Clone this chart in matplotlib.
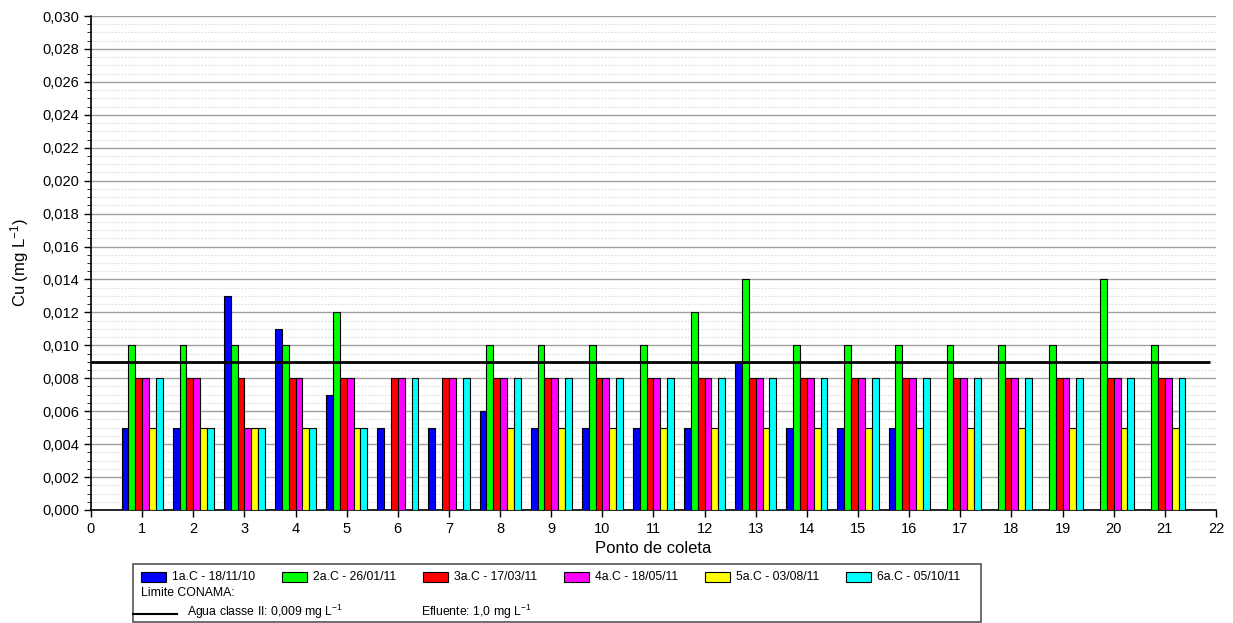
import matplotlib
matplotlib.use("Agg")
import matplotlib.pyplot as plt
from matplotlib.patches import Rectangle
from matplotlib.lines import Line2D
import numpy as np

plt.rcParams['font.family'] = ['Liberation Sans', 'DejaVu Sans']
plt.rcParams['mathtext.fontset'] = 'custom'
plt.rcParams['mathtext.rm'] = 'Liberation Sans'
plt.rcParams['mathtext.it'] = 'Liberation Sans:italic'
plt.rcParams['mathtext.bf'] = 'Liberation Sans:bold'
plt.rcParams['axes.unicode_minus'] = False

pontos = list(range(1, 22))
nan = np.nan

# Cu (mg/L) por campanha
c1 = [0.005, 0.005, 0.013, 0.011, 0.007, 0.005, 0.005, 0.006, 0.005, 0.005, 0.005,
      0.005, 0.009, 0.005, 0.005, 0.005, nan, nan, nan, nan, nan]
c2 = [0.010, 0.010, 0.010, 0.010, 0.012, nan, nan, 0.010, 0.010, 0.010, 0.010,
      0.012, 0.014, 0.010, 0.010, 0.010, 0.010, 0.010, 0.010, 0.014, 0.010]
c3 = [0.008] * 21
c4 = [0.008, 0.008, 0.005, 0.008, 0.008, 0.008, 0.008, 0.008, 0.008, 0.008, 0.008,
      0.008, 0.008, 0.008, 0.008, 0.008, 0.008, 0.008, 0.008, 0.008, 0.008]
c5 = [0.005, 0.005, 0.005, 0.005, 0.005, nan, nan, 0.005, 0.005, 0.005, 0.005,
      0.005, 0.005, 0.005, 0.005, 0.005, 0.005, 0.005, 0.005, 0.005, 0.005]
c6 = [0.008, 0.005, 0.005, 0.005, 0.005, 0.008, 0.008, 0.008, 0.008, 0.008, 0.008,
      0.008, 0.008, 0.008, 0.008, 0.008, 0.008, 0.008, 0.008, 0.008, 0.008]

series = [c1, c2, c3, c4, c5, c6]
labels = ["1a.C - 18/11/10", "2a.C - 26/01/11", "3a.C - 17/03/11",
          "4a.C - 18/05/11", "5a.C - 03/08/11", "6a.C - 05/10/11"]
colors = ["#0000FF", "#00FF00", "#FF0000", "#FF00FF", "#FFFF00", "#00FFFF"]

limite_agua = 0.009

fig = plt.figure(figsize=(12.33, 6.23), dpi=100)
ax = fig.add_axes([0.0738, 0.1814, 0.9124, 0.7929])

w = 0.134
x = np.array(pontos, dtype=float)
for i, (vals, c) in enumerate(zip(series, colors)):
    ax.bar(x + (i - 2.5) * w, vals, width=w, color=c, edgecolor="black",
           linewidth=0.8, zorder=3)

ax.hlines(limite_agua, 0, 21.88, color="black", linewidth=2, zorder=4)

ax.set_xlim(0, 22)
ax.set_ylim(0, 0.030)
ax.set_xticks(range(0, 23))
ax.set_yticks(np.arange(0, 0.0301, 0.002))
ax.set_yticks(np.arange(0, 0.0301, 0.0005), minor=True)
ax.set_yticklabels([f"{v:.3f}".replace(".", ",") for v in np.arange(0, 0.0301, 0.002)])
ax.tick_params(axis="both", labelsize=10.5, direction="out", length=5, width=1)
ax.tick_params(axis="y", which="minor", length=3)

ax.grid(axis="y", which="major", color="#a0a0a0", linewidth=1, zorder=0)
ax.grid(axis="y", which="minor", color="#dcdcdc", linewidth=0.8, linestyle=(0, (1.5, 1.5)), zorder=0)
ax.set_axisbelow(True)

for s in ["top", "right"]:
    ax.spines[s].set_visible(False)
ax.spines["left"].set_linewidth(1.2)
ax.spines["bottom"].set_linewidth(1.2)

ax.set_xlabel("Ponto de coleta", fontsize=12, labelpad=4)
ax.set_ylabel("Cu (mg L$^{\\mathrm{-1}}$)", fontsize=12, labelpad=8)

# legenda montada manualmente
W, H = 1233.0, 623.0
def fx(px):
    return px / W
def fy(py):
    return 1 - py / H

fig.patches.append(Rectangle((fx(133), fy(622)), fx(981) - fx(133), fy(564) - fy(622),
                             transform=fig.transFigure, fill=False,
                             edgecolor="#555555", linewidth=1.2))
for i, (lab, c) in enumerate(zip(labels, colors)):
    x0 = 141 + i * 141
    fig.patches.append(Rectangle((fx(x0), fy(582)), fx(25), 10 / H,
                                 transform=fig.transFigure, facecolor=c,
                                 edgecolor="black", linewidth=0.8))
    fig.text(fx(x0 + 31), fy(577), lab, fontsize=8.8, va="center", ha="left")

fig.text(fx(141), fy(593), "Limite CONAMA:", fontsize=8.8, va="center", ha="left")
fig.lines.append(Line2D([fx(133), fx(177)], [fy(614), fy(614)],
                        transform=fig.transFigure, color="black", linewidth=1.5))
fig.text(fx(187), fy(612), "Agua classe II: 0,009 mg L$^{\\mathrm{-1}}$", fontsize=8.8, va="center", ha="left")
fig.text(fx(421), fy(612), "Efluente: 1,0 mg L$^{\\mathrm{-1}}$", fontsize=8.8, va="center", ha="left")

fig.savefig("out.png", dpi=100)
